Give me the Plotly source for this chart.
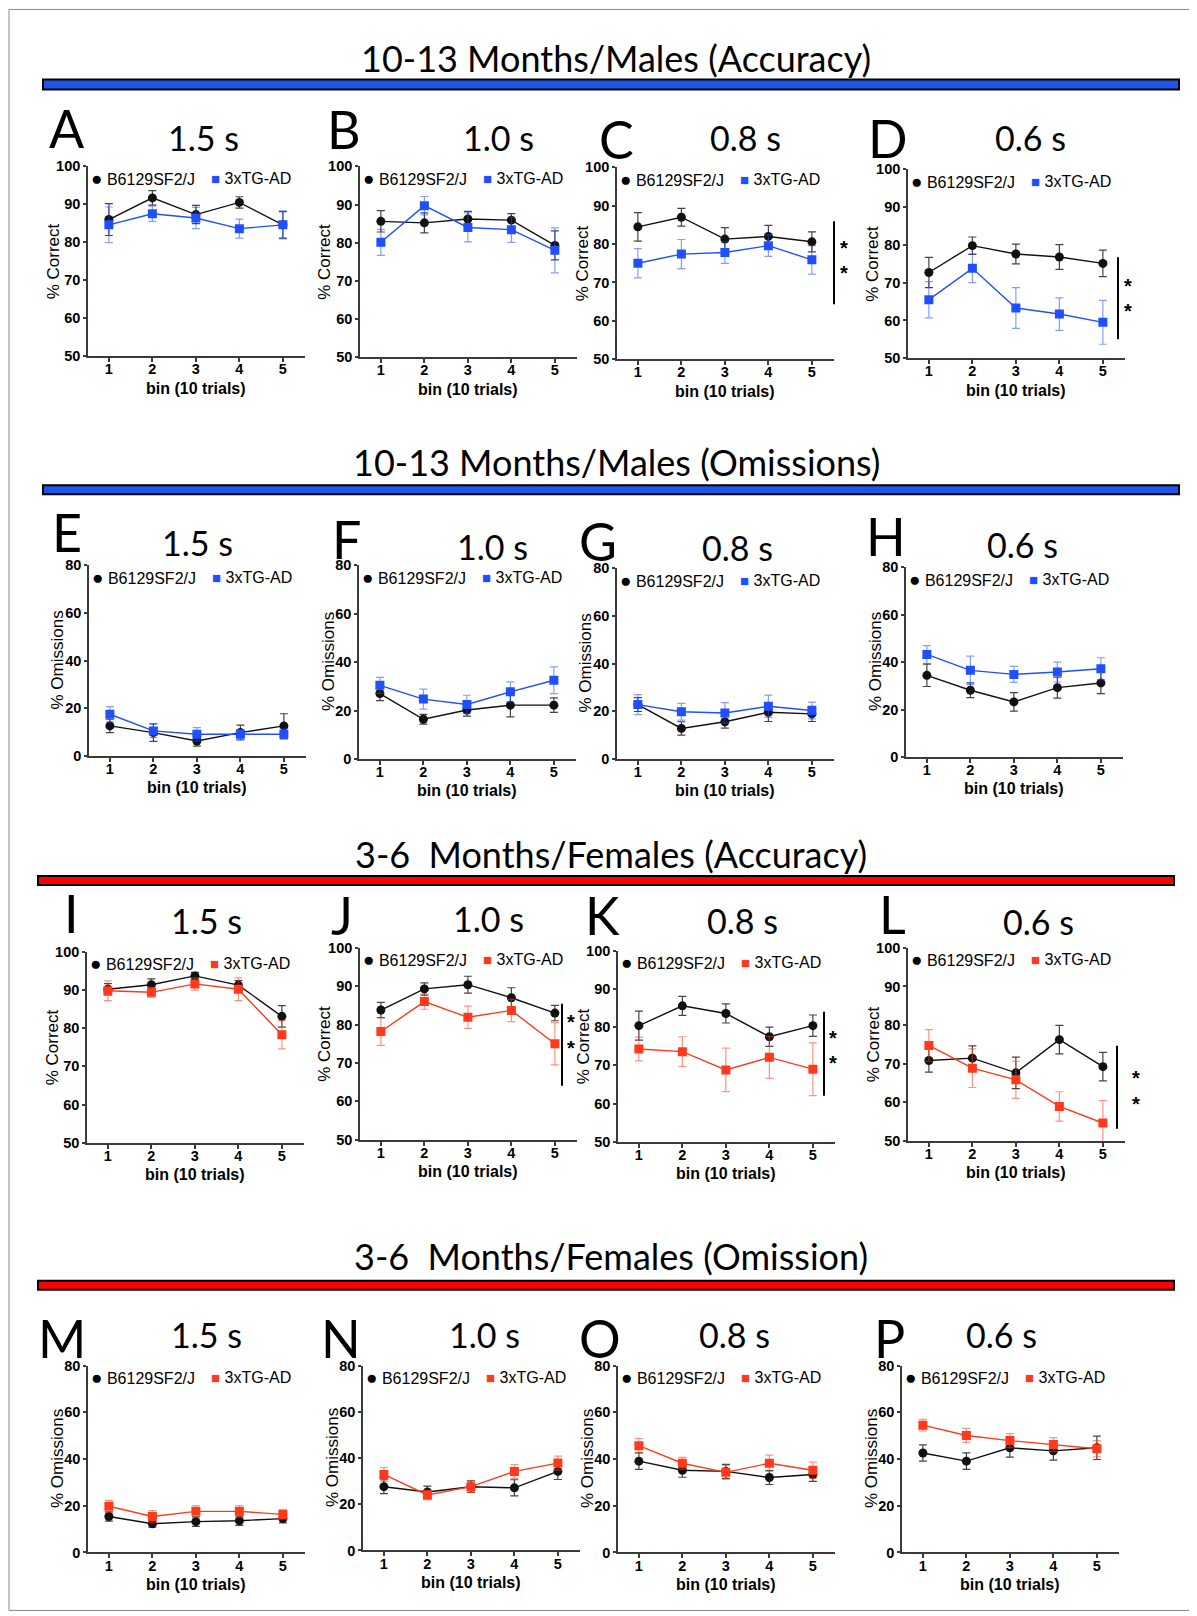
import plotly.graph_objects as go

SCREEN_W, SCREEN_H = 1197, 1616
OFF = 8  # page body margin compensation
W, H = SCREEN_W - OFF, SCREEN_H - OFF

bins = [1, 2, 3, 4, 5]
bin_labels = ["1", "2", "3", "4", "5"]
name_wt = "B6129SF2/J"
name_tg = "3xTG-AD"

# ---- 10-13 months males, accuracy ----
A_wt = [86.0, 91.7, 87.3, 90.5, 84.6]; A_wt_err = [4.2, 1.9, 2.4, 1.5, 3.5]
A_tg = [84.6, 87.5, 86.4, 83.6, 84.6]; A_tg_err = [4.7, 2.0, 2.8, 2.5, 3.7]
B_wt = [85.6, 85.2, 86.2, 85.9, 79.3]; B_wt_err = [2.8, 2.6, 2.0, 1.7, 3.8]
B_tg = [80.1, 89.7, 84.0, 83.4, 78.0]; B_tg_err = [3.4, 2.4, 3.8, 3.3, 5.9]
C_wt = [84.5, 87.0, 81.3, 82.0, 80.6]; C_wt_err = [3.7, 2.3, 3.0, 2.9, 2.6]
C_tg = [75.0, 77.4, 77.8, 79.6, 75.9]; C_tg_err = [3.8, 3.8, 2.8, 2.8, 3.7]
D_wt = [72.7, 79.8, 77.6, 76.8, 75.1]; D_wt_err = [4.0, 2.3, 2.6, 3.3, 3.5]
D_tg = [65.5, 73.8, 63.3, 61.7, 59.5]; D_tg_err = [4.8, 3.8, 5.4, 4.3, 5.8]
# ---- 10-13 months males, omissions ----
E_wt = [12.6, 9.8, 6.3, 9.8, 12.6]; E_wt_err = [2.8, 3.7, 2.2, 3.1, 5.1]
E_tg = [17.5, 10.5, 9.1, 9.1, 9.1]; E_tg_err = [3.2, 2.8, 2.8, 2.0, 2.2]
F_wt = [27.0, 16.4, 20.2, 22.2, 22.2]; F_wt_err = [2.9, 2.0, 2.5, 4.8, 3.0]
F_tg = [30.4, 24.7, 22.5, 27.7, 32.5]; F_tg_err = [3.3, 4.1, 3.8, 4.1, 5.5]
G_wt = [22.8, 12.8, 15.6, 19.6, 18.9]; G_wt_err = [2.9, 2.8, 2.7, 3.9, 3.2]
G_tg = [22.8, 19.8, 19.3, 22.1, 20.3]; G_tg_err = [4.2, 3.5, 4.3, 4.7, 3.5]
H_wt = [34.4, 28.1, 23.2, 29.2, 31.2]; H_wt_err = [4.7, 3.1, 3.9, 4.4, 4.5]
H_tg = [43.2, 36.5, 34.8, 35.8, 37.2]; H_tg_err = [3.7, 6.0, 3.4, 4.2, 4.6]
# ---- 3-6 months females, accuracy ----
I_wt = [90.2, 91.4, 93.7, 91.3, 83.1]; I_wt_err = [1.5, 1.5, 0.9, 1.2, 2.8]
I_tg = [89.8, 89.4, 91.6, 90.2, 78.3]; I_tg_err = [2.6, 1.3, 1.6, 3.0, 3.7]
J_wt = [83.8, 89.3, 90.4, 87.0, 83.0]; J_wt_err = [2.0, 1.6, 2.2, 2.6, 2.0]
J_tg = [78.2, 86.0, 81.9, 83.7, 75.0]; J_tg_err = [3.6, 2.0, 2.9, 2.9, 5.5]
K_wt = [80.4, 85.6, 83.6, 77.5, 80.4]; K_wt_err = [3.8, 2.5, 2.5, 2.5, 2.8]
K_tg = [74.3, 73.6, 68.8, 72.1, 69.0]; K_tg_err = [3.1, 3.9, 5.7, 5.5, 6.9]
L_wt = [70.8, 71.4, 67.6, 76.2, 69.2]; L_wt_err = [3.0, 3.2, 4.1, 3.7, 3.7]
L_tg = [74.7, 68.8, 65.8, 58.9, 54.6]; L_tg_err = [4.1, 5.0, 4.8, 3.8, 5.8]
# ---- 3-6 months females, omissions ----
M_wt = [15.4, 12.3, 13.2, 13.6, 14.5]; M_wt_err = [2.0, 1.5, 2.0, 2.0, 1.8]
M_tg = [19.8, 15.4, 17.6, 17.6, 16.3]; M_tg_err = [2.5, 2.5, 2.5, 2.5, 2.0]
N_wt = [27.6, 25.3, 27.6, 27.1, 34.2]; N_wt_err = [3.0, 2.5, 2.5, 3.5, 3.5]
N_tg = [32.9, 24.0, 27.6, 34.2, 37.8]; N_tg_err = [3.0, 2.0, 2.5, 3.0, 3.0]
O_wt = [39.1, 35.2, 34.7, 32.1, 33.4]; O_wt_err = [3.5, 3.0, 3.0, 3.0, 3.0]
O_tg = [45.7, 38.2, 34.3, 38.2, 35.2]; O_tg_err = [3.0, 2.5, 3.0, 3.5, 3.5]
P_wt = [42.6, 39.1, 44.8, 43.5, 44.8]; P_wt_err = [3.5, 3.5, 4.0, 4.0, 5.0]
P_tg = [54.5, 50.1, 47.9, 46.2, 44.4]; P_tg_err = [2.5, 3.0, 3.0, 3.0, 3.5]

acc_ticks = [50, 60, 70, 80, 90, 100]
om_ticks = [0, 20, 40, 60, 80]

durations = ["1.5 s", "1.0 s", "0.8 s", "0.6 s"]
section_titles = ["10-13 Months/Males (Accuracy)", "10-13 Months/Males (Omissions)",
                  "3-6  Months/Females (Accuracy)", "3-6  Months/Females (Omission)"]

BLUE = "#1f4fff"
BLUE_ERR = "rgba(31,79,255,0.55)"
RED = "#ff3a1c"
RED_ERR = "rgba(255,58,28,0.55)"
BLACK = "#111111"
BLACK_ERR = "#444444"
BAR_BLUE = "#1f55e6"
BAR_RED = "#ff0000"

# panel layout (reference pixels): y-axis x position, top and bottom of plot area, letter centre, title centre
panels = [
    ("A", 0, "acc", "blue", A_wt, A_wt_err, A_tg, A_tg_err, 88, 167, 357, (67, 129), (203, 138)),
    ("B", 1, "acc", "blue", B_wt, B_wt_err, B_tg, B_tg_err, 360, 167, 358, (344, 130), (498, 138)),
    ("C", 2, "acc", "blue", C_wt, C_wt_err, C_tg, C_tg_err, 617, 168, 360, (616, 140), (745, 138)),
    ("D", 3, "acc", "blue", D_wt, D_wt_err, D_tg, D_tg_err, 908, 170, 359, (888, 139), (1030, 138)),
    ("E", 0, "om", "blue", E_wt, E_wt_err, E_tg, E_tg_err, 89, 566, 757, (67, 533), (197, 543)),
    ("F", 1, "om", "blue", F_wt, F_wt_err, F_tg, F_tg_err, 359, 566, 760, (346, 540), (492, 547)),
    ("G", 2, "om", "blue", G_wt, G_wt_err, G_tg, G_tg_err, 617, 569, 760, (598, 542), (737, 548)),
    ("H", 3, "om", "blue", H_wt, H_wt_err, H_tg, H_tg_err, 906, 568, 758, (886, 537), (1022, 545)),
    ("I", 0, "acc", "red", I_wt, I_wt_err, I_tg, I_tg_err, 87, 953, 1144, (71, 914), (207, 922)),
    ("J", 1, "acc", "red", J_wt, J_wt_err, J_tg, J_tg_err, 360, 949, 1141, (342, 916), (488, 920)),
    ("K", 2, "acc", "red", K_wt, K_wt_err, K_tg, K_tg_err, 618, 952, 1143, (602, 916), (743, 922)),
    ("L", 3, "acc", "red", L_wt, L_wt_err, L_tg, L_tg_err, 908, 949, 1142, (892, 915), (1038, 923)),
    ("M", 0, "om", "red", M_wt, M_wt_err, M_tg, M_tg_err, 88, 1367, 1554, (62, 1339), (206, 1336)),
    ("N", 1, "om", "red", N_wt, N_wt_err, N_tg, N_tg_err, 363, 1367, 1552, (341, 1339), (484, 1336)),
    ("O", 2, "om", "red", O_wt, O_wt_err, O_tg, O_tg_err, 618, 1367, 1554, (600, 1339), (734, 1336)),
    ("P", 3, "om", "red", P_wt, P_wt_err, P_tg, P_tg_err, 902, 1367, 1554, (889, 1339), (1001, 1336)),
]

sections = [  # title centre y, bar x0,x1,y0,y1, colour
    (59, 43, 1179, 80, 90, BAR_BLUE),
    (463, 43, 1179, 486, 495, BAR_BLUE),
    (855, 38, 1174, 877, 886, BAR_RED),
    (1257, 38, 1174, 1282, 1291, BAR_RED),
]

# significance brackets: line x, y0, y1, star x, star ys
sig = [
    (834, 222, 305, 844, (249, 274)),
    (1118, 258, 340, 1128, (287, 312)),
    (562, 1005, 1087, 571, (1023, 1049)),
    (824, 1013, 1097, 833, (1039, 1064)),
    (1117, 1047, 1130, 1136, (1079, 1105)),
]

XR = [0.52, 5.5]
PX_PER_UNIT = 43.5
PW = (XR[1] - XR[0]) * PX_PER_UNIT


def fx(x):
    return (x - OFF) / W


def fy(y):
    s = 1.0094 * y - 8.7  # empirical vertical correction of the rendered page
    return 1 - (s - OFF) / H


fig = go.Figure()
annotations = []
shapes = []
LETTER_FONT = dict(family="Lato, Open Sans, sans-serif", size=52, color="#000")
TITLE_FONT = dict(family="Lato, Open Sans, sans-serif", size=34, color="#000")
SEC_FONT = dict(family="Lato, Open Sans, sans-serif", size=36, color="#000")
ARIAL = "Liberation Sans, Arial, sans-serif"

for i, (letter, di, kind, col, wt, wte, tg, tge, x0, top, bot, lpos, tpos) in enumerate(panels):
    n = "" if i == 0 else str(i + 1)
    xa, ya = "x" + n, "y" + n
    ccol = BLUE if col == "blue" else RED
    cerr = BLUE_ERR if col == "blue" else RED_ERR
    fig.add_trace(go.Scatter(
        x=bins, y=wt, mode="lines+markers", xaxis=xa, yaxis=ya, name=name_wt, showlegend=False,
        line=dict(color=BLACK, width=1.4),
        marker=dict(symbol="circle", size=9, color=BLACK),
        error_y=dict(type="data", array=wte, color=BLACK_ERR, thickness=1.2, width=4)))
    fig.add_trace(go.Scatter(
        x=bins, y=tg, mode="lines+markers", xaxis=xa, yaxis=ya, name=name_tg, showlegend=False,
        line=dict(color=ccol, width=1.4),
        marker=dict(symbol="square", size=9, color=ccol),
        error_y=dict(type="data", array=tge, color=cerr, thickness=1.2, width=4)))

    axis_common = dict(showline=True, linecolor="#3a3a3a", linewidth=1.6, ticks="outside",
                       tickwidth=1.5, tickcolor="#3a3a3a", showgrid=False, zeroline=False,
                       tickfont=dict(family=ARIAL, size=14.5, color="#000"))
    fig.layout["xaxis" + n] = dict(
        domain=[fx(x0), fx(x0 + PW)], anchor=ya, range=XR, tickvals=bins, ticklen=4,
        ticklabelstandoff=-5,
        ticktext=["<b>%s</b>" % t for t in bin_labels], **axis_common)
    if kind == "acc":
        yr, yt, ytitle, tdx = [50, 100], acc_ticks, "% Correct", 35
    else:
        yr, yt, ytitle, tdx = [0, 80], om_ticks, "% Omissions", 31
    fig.layout["yaxis" + n] = dict(
        domain=[fy(bot), fy(top)], anchor=xa, range=yr, tickvals=yt, ticklen=3,
        ticktext=["<b>%d</b>" % t for t in yt], **axis_common)

    # axis titles
    annotations.append(dict(x=fx(x0 - tdx), y=fy((top + bot) / 2), xref="paper", yref="paper", text=ytitle,
                            textangle=-90, showarrow=False, font=dict(family=ARIAL, size=17, color="#000"),
                            xanchor="center", yanchor="middle"))
    annotations.append(dict(x=fx(x0 + PW / 2), y=fy(bot + 32), xref="paper", yref="paper",
                            text="<b>bin (10 trials)</b>", showarrow=False,
                            font=dict(family=ARIAL, size=16, color="#000"), xanchor="center", yanchor="middle"))

    # panel letter and duration title
    annotations.append(dict(x=fx(lpos[0]), y=fy(lpos[1]), xref="paper", yref="paper", text=letter,
                            showarrow=False, font=LETTER_FONT, xanchor="center", yanchor="middle"))
    annotations.append(dict(x=fx(tpos[0]), y=fy(tpos[1]), xref="paper", yref="paper", text=durations[di],
                            showarrow=False, font=TITLE_FONT, xanchor="center", yanchor="middle"))
    # in-panel legend
    ly = fy(top + 12)
    annotations.append(dict(x=fx(x0 + 1), y=ly, xref="paper", yref="paper",
                            text="<span style='font-size:19px'>●</span> " + name_wt,
                            showarrow=False, font=dict(family=ARIAL, size=16, color="#000"),
                            xanchor="left", yanchor="middle"))
    annotations.append(dict(x=fx(x0 + 121), y=ly, xref="paper", yref="paper",
                            text="<span style='font-size:15px;color:%s'>■</span> %s" % (ccol, name_tg),
                            showarrow=False, font=dict(family=ARIAL, size=16, color="#000"),
                            xanchor="left", yanchor="middle"))

for (ty, bx0, bx1, by0, by1, bcol), stitle in zip(sections, section_titles):
    annotations.append(dict(x=fx((bx0 + bx1) / 2 + 5), y=fy(ty), xref="paper", yref="paper", text=stitle,
                            showarrow=False, font=SEC_FONT, xanchor="center", yanchor="middle"))
    shapes.append(dict(type="rect", xref="paper", yref="paper", x0=fx(bx0), x1=fx(bx1), y0=fy(by1), y1=fy(by0),
                       fillcolor=bcol, line=dict(color="#000", width=2)))

for lx, ly0, ly1, sx, sys_ in sig:
    shapes.append(dict(type="line", xref="paper", yref="paper", x0=fx(lx), x1=fx(lx), y0=fy(ly0), y1=fy(ly1),
                       line=dict(color="#000", width=2)))
    for sy in sys_:
        annotations.append(dict(x=fx(sx), y=fy(sy), xref="paper", yref="paper", text="<b>*</b>",
                                showarrow=False, font=dict(family=ARIAL, size=20, color="#000"),
                                xanchor="center", yanchor="middle"))

# outer frame
shapes.append(dict(type="rect", xref="paper", yref="paper", x0=fx(9), x1=fx(1192), y0=fy(1612), y1=fy(10),
                   line=dict(color="#888", width=1), fillcolor="rgba(0,0,0,0)"))

fig.update_layout(width=W, height=H, margin=dict(l=0, r=0, t=0, b=0), paper_bgcolor="white",
                  plot_bgcolor="white", showlegend=False, annotations=annotations, shapes=shapes)

fig.write_html("out.html")
